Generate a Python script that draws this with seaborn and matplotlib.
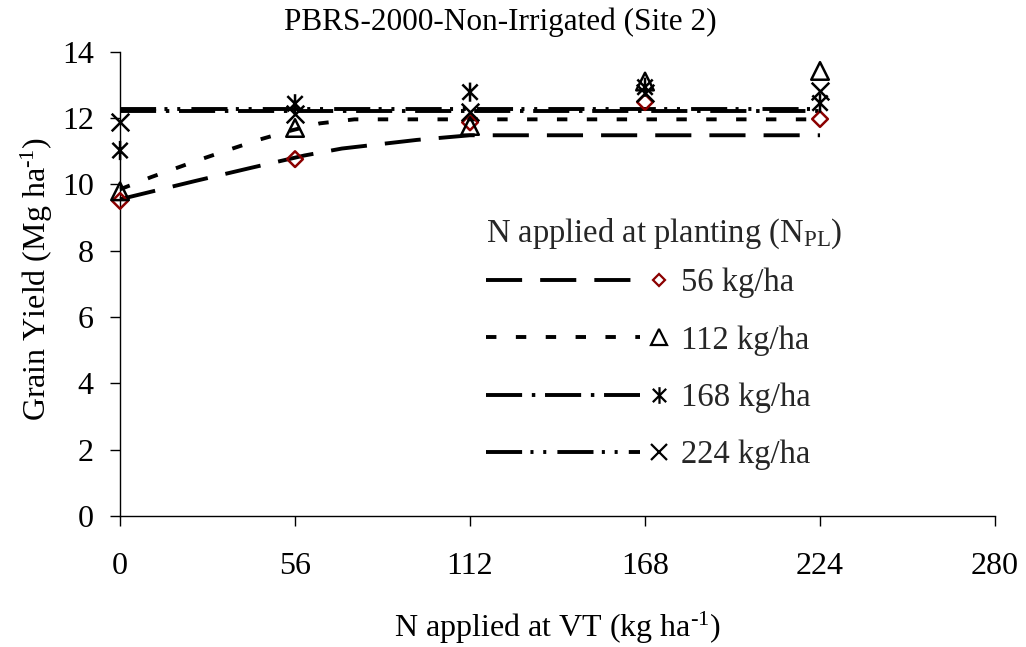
import matplotlib
matplotlib.use("Agg")
import matplotlib.pyplot as plt
import seaborn as sns
import numpy as np
from matplotlib.path import Path
from matplotlib.lines import Line2D
from matplotlib.legend_handler import HandlerBase

# ---------------- data ----------------
x_vt = [0, 56, 112, 168, 224]
labels = ["56 kg/ha", "112 kg/ha", "168 kg/ha", "224 kg/ha"]

obs_56 = [9.50, 10.76, 11.87, 12.48, 11.97]
obs_112 = [9.79, 11.70, 11.76, 13.10, 13.42]
obs_168 = [11.02, 12.43, 12.78, 12.93, 12.45]
obs_224 = [11.88, 12.12, 12.17, 12.76, 12.82]

fit_x_56 = [0, 24, 42, 59, 71, 95, 112, 224]
fit_y_56 = [9.55, 10.10, 10.50, 10.87, 11.08, 11.34, 11.48, 11.48]
fit_x_112 = [0, 10, 26, 36, 45, 55, 64, 75, 224]
fit_y_112 = [9.85, 10.22, 10.76, 11.08, 11.36, 11.63, 11.84, 11.96, 11.96]
fit_x_168 = [0, 224]
fit_y_168 = [12.22, 12.22]
fit_x_224 = [0, 224]
fit_y_224 = [12.27, 12.27]

title = "PBRS-2000-Non-Irrigated (Site 2)"
xlabel = "N applied at VT (kg ha$^{\\text{-1}}$)"
ylabel = "Grain Yield (Mg ha$^{\\text{-1}}$)"
legend_title = "N applied at planting (N$_{\\text{PL}}$)"
xticks = [0, 56, 112, 168, 224, 280]
yticks = [0, 2, 4, 6, 8, 10, 12, 14]

# ---------------- style ----------------
sns.set_theme(style="ticks")
plt.rcParams["font.family"] = ["Liberation Serif", "DejaVu Serif"]
plt.rcParams["mathtext.fontset"] = "custom"
plt.rcParams["mathtext.rm"] = "Liberation Serif"
plt.rcParams["mathtext.it"] = "Liberation Serif:italic"
plt.rcParams["mathtext.bf"] = "Liberation Serif:bold"
plt.rcParams["lines.scale_dashes"] = False

RED = "#8B0000"
LW = 2.8
FS = 23
dash_56 = (0, (26, 13))
dash_112 = (0, (7.5, 14))
dash_168 = (0, (26, 7, 2.5, 7))
dash_224 = (0, (26, 6, 2.2, 7, 2.2, 8))

ast_path = Path(
    [(-0.8, -0.8), (0.8, 0.8), (-0.8, 0.8), (0.8, -0.8), (0, -1), (0, 1)],
    [Path.MOVETO, Path.LINETO, Path.MOVETO, Path.LINETO, Path.MOVETO, Path.LINETO],
)

fig = plt.figure(figsize=(10.26, 6.47), dpi=100)
ax = fig.add_axes([0.117, 0.2025, 0.8528, 0.7176])

fits = [
    (fit_x_56, fit_y_56, dash_56),
    (fit_x_112, fit_y_112, dash_112),
    (fit_x_168, fit_y_168, dash_168),
    (fit_x_224, fit_y_224, dash_224),
]
for fx, fy, ls in fits:
    sns.lineplot(x=fx, y=fy, ax=ax, color="black", lw=LW, linestyle=ls,
                 sort=False, estimator=None, clip_on=False)

sns.scatterplot(x=x_vt, y=obs_56, ax=ax, marker="D", s=64,
                facecolor="none", edgecolor=RED, linewidth=1.8, zorder=5, clip_on=False)
sns.scatterplot(x=x_vt, y=obs_112, ax=ax, marker="^", s=160,
                facecolor="none", edgecolor="black", linewidth=1.8, zorder=5, clip_on=False)
sns.scatterplot(x=x_vt, y=obs_168, ax=ax, marker=ast_path, s=190,
                facecolor="none", edgecolor="black", linewidth=1.8, zorder=5, clip_on=False)
sns.scatterplot(x=x_vt, y=obs_224, ax=ax, marker="x", s=160,
                color="black", linewidth=1.8, zorder=5, clip_on=False)

ax.set_xlim(0, 280)
ax.set_ylim(0, 14)
ax.set_xticks(xticks)
ax.set_yticks(yticks)
ax.set_xticklabels([str(t) for t in xticks])
ax.set_yticklabels([str(t) for t in yticks])
ax.tick_params(axis="both", direction="out", length=7, width=1.0,
               colors="black", labelsize=FS)
ax.tick_params(axis="x", pad=19)
ax.tick_params(axis="y", pad=12)
for s in ["top", "right"]:
    ax.spines[s].set_visible(False)
for s in ["left", "bottom"]:
    ax.spines[s].set_color("black")
    ax.spines[s].set_linewidth(1.0)

fig.text(0.488, 0.966, title, fontsize=22.5, ha="center", va="center", color="black")
ax.set_xlabel(xlabel, fontsize=23, color="black")
ax.set_ylabel(ylabel, fontsize=23, color="black")
ax.xaxis.set_label_coords(0.5, -0.201)
ax.yaxis.set_label_coords(-0.074, 0.51)


# ---------------- legend ----------------
class Combo:
    def __init__(self, ls, mk):
        self.ls = ls
        self.mk = mk


class LineThenMarker(HandlerBase):
    def create_artists(self, legend, orig_handle, xdescent, ydescent,
                       width, height, fontsize, trans):
        y = height / 2 - ydescent
        x0 = -xdescent
        line = Line2D([x0, x0 + width * 0.83], [y, y], color="black",
                      lw=LW, linestyle=orig_handle.ls)
        mk = Line2D([x0 + width * 0.935], [y], linestyle="none", **orig_handle.mk)
        line.set_transform(trans)
        mk.set_transform(trans)
        return [line, mk]


handles = [
    Combo(dash_56, dict(marker="D", markersize=6, mfc="none", mec=RED, mew=1.6)),
    Combo(dash_112, dict(marker="^", markersize=11, mfc="none", mec="black", mew=1.6)),
    Combo(dash_168, dict(marker=ast_path, markersize=12, mfc="none", mec="black", mew=1.6)),
    Combo(dash_224, dict(marker="x", markersize=12, mfc="none", mec="black", mew=1.6)),
]
leg = ax.legend(handles, labels, handler_map={Combo: LineThenMarker()},
                title=legend_title, loc="upper left",
                bbox_to_anchor=(0.403, 0.674), frameon=False,
                fontsize=23.5, title_fontsize=23.5, handlelength=5.68,
                handletextpad=0.3, labelspacing=0.82, alignment="left",
                borderaxespad=0)
leg._legend_box.sep = 12.5

fig.savefig("out.png", dpi=100)
